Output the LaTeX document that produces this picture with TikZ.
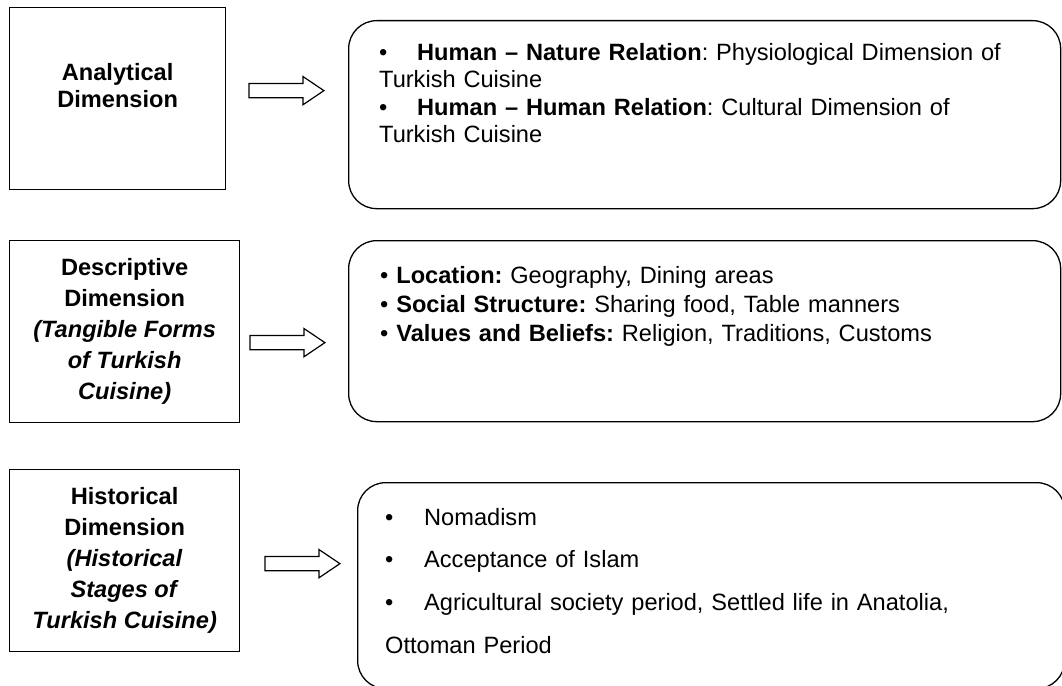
\documentclass[tikz,border=0pt]{standalone}
\usepackage{fontspec}
\setmainfont{Liberation Sans}
\usepackage{tikz}
\usetikzlibrary{positioning, shapes.arrows}

\begin{document}
\frenchspacing
\begin{tikzpicture}[
    x=1pt, y=1pt,
    dimbox/.style={draw, line width=1.3pt, inner sep=0pt, anchor=north west, align=center, minimum height=182pt, font=\fontsize{23.6}{31}\selectfont\bfseries},
    listbox/.style={draw, line width=1.3pt, rounded corners=28pt, inner sep=0pt, anchor=north west},
    items/.style={inner sep=0pt, align=left, text width=660pt},
    hollow/.style={single arrow, draw, line width=1.2pt, inner xsep=0pt, inner ysep=6.5pt, minimum height=75pt, single arrow head extend=7pt, single arrow tip angle=68}
]
    \path[use as bounding box, clip] (0,0) rectangle (1062,-685);

    % left column
    \node[dimbox, minimum width=216pt, font=\fontsize{23.6}{27}\selectfont\bfseries] (ana) at (9,-7) {Analytical\\Dimension\\\mbox{}};
    \node[dimbox, minimum width=230pt] (des) at (9,-240) {Descriptive\\Dimension\\\textit{(Tangible Forms}\\\textit{of Turkish}\\\textit{Cuisine)}};
    \node[dimbox, minimum width=230pt] (his) at (9,-469) {Historical\\Dimension\\\textit{(Historical}\\\textit{Stages of}\\\textit{Turkish Cuisine)}};

    % hollow arrows
    \node[hollow, right=22pt of ana, yshift=8pt] (anaarr) {};
    \node[hollow, right=9pt of des, yshift=-11pt] (desarr) {};
    \node[hollow, right=24pt of his, yshift=-3pt] (hisarr) {};

    % right column
    \node[listbox, minimum width=712pt, minimum height=188pt] (anabox) at (348,-20) {};
    \node[listbox, minimum width=712pt, minimum height=181pt] (desbox) at (348,-240) {};
    \node[listbox, minimum width=707pt, minimum height=206pt] (hisbox) at (357,-482) {};

    \node[items, below right=40pt and 31pt of anabox.north west, anchor=base west, font=\fontsize{23.6}{27.5}\selectfont] (analist) {%
        \makebox[38pt][l]{\textbullet}\textbf{Human -- Nature Relation}: Physiological Dimension of\\
        Turkish Cuisine\\
        \makebox[38pt][l]{\textbullet}\textbf{Human -- Human Relation}: Cultural Dimension of\\
        Turkish Cuisine};
    \node[items, below right=43pt and 32pt of desbox.north west, anchor=base west, font=\fontsize{23.6}{29}\selectfont] (deslist) {%
        \textbullet\ \textbf{Location:} Geography, Dining areas\\
        \textbullet\ \textbf{Social Structure:} Sharing food, Table manners\\
        \textbullet\ \textbf{Values and Beliefs:} Religion, Traditions, Customs};
    \node[items, below right=43pt and 28pt of hisbox.north west, anchor=base west, font=\fontsize{23.6}{42.7}\selectfont] (hislist) {%
        \makebox[39pt][l]{\textbullet}Nomadism\\
        \makebox[39pt][l]{\textbullet}Acceptance of Islam\\
        \makebox[39pt][l]{\textbullet}Agricultural society period, Settled life in Anatolia,\\
        Ottoman Period};
\end{tikzpicture}
\end{document}
